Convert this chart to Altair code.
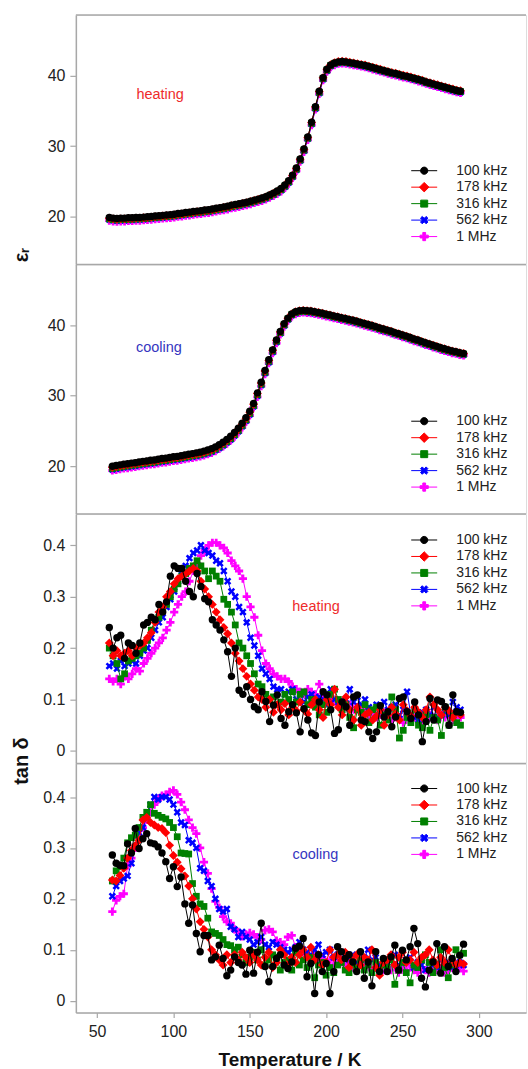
import altair as alt
import pandas as pd

FONT = "Liberation Sans"
GRAY = "#a8a8a8"

FREQS = ["100 kHz", "178 kHz", "316 kHz", "562 kHz", "1 MHz"]
COLORS = ["#000000", "#ff0000", "#008000", "#0000ff", "#ff00ff"]

# temperature grids (K)
T_HEAT = [58.0, 60.5, 63.0, 65.5, 68.0, 70.5, 73.0, 75.5, 78.0, 80.5,
          83.0, 85.5, 88.0, 90.5, 93.0, 95.5, 98.0, 100.5, 103.0, 105.5,
          108.0, 110.5, 113.0, 115.5, 118.0, 120.5, 123.0, 125.5, 128.0, 130.5,
          133.0, 135.5, 138.0, 140.5, 143.0, 145.5, 148.0, 150.5, 153.0, 155.5,
          158.0, 160.5, 163.0, 165.5, 168.0, 170.5, 173.0, 175.5, 178.0, 180.5,
          183.0, 185.5, 188.0, 190.5, 193.0, 195.5, 198.0, 200.5, 203.0, 205.5,
          208.0, 210.5, 213.0, 215.5, 218.0, 220.5, 223.0, 225.5, 228.0, 230.5,
          233.0, 235.5, 238.0, 240.5, 243.0, 245.5, 248.0, 250.5, 253.0, 255.5,
          258.0, 260.5, 263.0, 265.5, 268.0, 270.5, 273.0, 275.5, 278.0, 280.5,
          283.0, 285.5, 288.0]
T_COOL = [60.0, 62.5, 65.0, 67.5, 70.0, 72.5, 75.0, 77.5, 80.0, 82.5,
          85.0, 87.5, 90.0, 92.5, 95.0, 97.5, 100.0, 102.5, 105.0, 107.5,
          110.0, 112.5, 115.0, 117.5, 120.0, 122.5, 125.0, 127.5, 130.0, 132.5,
          135.0, 137.5, 140.0, 142.5, 145.0, 147.5, 150.0, 152.5, 155.0, 157.5,
          160.0, 162.5, 165.0, 167.5, 170.0, 172.5, 175.0, 177.5, 180.0, 182.5,
          185.0, 187.5, 190.0, 192.5, 195.0, 197.5, 200.0, 202.5, 205.0, 207.5,
          210.0, 212.5, 215.0, 217.5, 220.0, 222.5, 225.0, 227.5, 230.0, 232.5,
          235.0, 237.5, 240.0, 242.5, 245.0, 247.5, 250.0, 252.5, 255.0, 257.5,
          260.0, 262.5, 265.0, 267.5, 270.0, 272.5, 275.0, 277.5, 280.0, 282.5,
          285.0, 287.5, 290.0]

# ---- permittivity, heating ----
EPS_HEAT_100K = [19.9, 19.8, 19.75, 19.8, 19.8, 19.85, 19.85, 19.9, 19.9, 19.95,
                 20.0, 20.05, 20.1, 20.15, 20.2, 20.25, 20.3, 20.35, 20.45, 20.5,
                 20.6, 20.65, 20.75, 20.8, 20.85, 20.95, 21.0, 21.1, 21.2, 21.3,
                 21.4, 21.5, 21.65, 21.75, 21.85, 21.95, 22.05, 22.2, 22.35, 22.5,
                 22.65, 22.85, 23.1, 23.35, 23.65, 24.0, 24.5, 25.1, 25.9, 26.9,
                 28.2, 29.6, 31.3, 33.4, 35.6, 37.8, 39.7, 40.9, 41.5, 41.8,
                 41.95, 42.0, 41.95, 41.85, 41.75, 41.65, 41.55, 41.45, 41.3, 41.15,
                 41.0, 40.85, 40.7, 40.55, 40.4, 40.3, 40.15, 40.0, 39.9, 39.75,
                 39.6, 39.45, 39.3, 39.1, 38.95, 38.8, 38.65, 38.5, 38.35, 38.2,
                 38.05, 37.9, 37.8]
EPS_HEAT_178K = [19.8, 19.7, 19.65, 19.7, 19.7, 19.75, 19.75, 19.8, 19.8, 19.85,
                 19.9, 19.95, 20.0, 20.05, 20.1, 20.15, 20.2, 20.25, 20.35, 20.4,
                 20.5, 20.55, 20.65, 20.7, 20.75, 20.85, 20.9, 21.0, 21.1, 21.2,
                 21.3, 21.4, 21.55, 21.65, 21.75, 21.9, 22.0, 22.15, 22.3, 22.45,
                 22.6, 22.8, 23.05, 23.3, 23.6, 23.95, 24.45, 25.05, 25.85, 26.85,
                 28.15, 29.55, 31.25, 33.35, 35.55, 37.75, 39.7, 40.9, 41.55, 41.85,
                 42.0, 42.05, 42.0, 41.9, 41.8, 41.7, 41.6, 41.5, 41.35, 41.2,
                 41.05, 40.9, 40.75, 40.6, 40.45, 40.35, 40.2, 40.05, 39.95, 39.8,
                 39.65, 39.5, 39.35, 39.15, 39.0, 38.85, 38.7, 38.55, 38.4, 38.25,
                 38.1, 37.95, 37.85]
EPS_HEAT_316K = [19.7, 19.6, 19.55, 19.6, 19.6, 19.65, 19.65, 19.7, 19.7, 19.75,
                 19.8, 19.85, 19.9, 19.95, 20.0, 20.05, 20.1, 20.15, 20.25, 20.3,
                 20.4, 20.45, 20.55, 20.6, 20.65, 20.75, 20.8, 20.9, 21.0, 21.1,
                 21.2, 21.3, 21.45, 21.55, 21.65, 21.8, 21.9, 22.05, 22.2, 22.35,
                 22.5, 22.7, 22.95, 23.2, 23.5, 23.85, 24.35, 24.95, 25.75, 26.75,
                 28.05, 29.45, 31.15, 33.25, 35.45, 37.65, 39.6, 40.8, 41.45, 41.75,
                 41.9, 41.95, 41.9, 41.8, 41.7, 41.6, 41.5, 41.4, 41.25, 41.1,
                 40.95, 40.8, 40.65, 40.5, 40.35, 40.25, 40.1, 39.95, 39.85, 39.7,
                 39.55, 39.4, 39.25, 39.05, 38.9, 38.75, 38.6, 38.45, 38.3, 38.15,
                 38.0, 37.85, 37.75]
EPS_HEAT_562K = [19.6, 19.5, 19.45, 19.5, 19.5, 19.55, 19.55, 19.6, 19.6, 19.65,
                 19.7, 19.75, 19.8, 19.85, 19.9, 19.95, 20.0, 20.05, 20.15, 20.2,
                 20.3, 20.35, 20.45, 20.5, 20.55, 20.65, 20.7, 20.8, 20.9, 21.0,
                 21.1, 21.2, 21.35, 21.45, 21.55, 21.7, 21.8, 21.95, 22.1, 22.25,
                 22.4, 22.6, 22.85, 23.1, 23.4, 23.75, 24.25, 24.85, 25.65, 26.65,
                 27.95, 29.35, 31.05, 33.15, 35.35, 37.55, 39.5, 40.7, 41.35, 41.65,
                 41.8, 41.85, 41.8, 41.7, 41.6, 41.5, 41.4, 41.3, 41.15, 41.0,
                 40.85, 40.7, 40.55, 40.4, 40.25, 40.15, 40.0, 39.85, 39.75, 39.6,
                 39.45, 39.3, 39.15, 38.95, 38.8, 38.65, 38.5, 38.35, 38.2, 38.05,
                 37.9, 37.75, 37.65]
EPS_HEAT_1M = [19.45, 19.35, 19.3, 19.35, 19.35, 19.4, 19.4, 19.45, 19.45, 19.5,
               19.55, 19.6, 19.65, 19.7, 19.75, 19.8, 19.85, 19.9, 20.0, 20.05,
               20.15, 20.2, 20.3, 20.35, 20.4, 20.5, 20.55, 20.65, 20.75, 20.85,
               20.95, 21.05, 21.2, 21.3, 21.4, 21.55, 21.65, 21.8, 21.95, 22.1,
               22.25, 22.45, 22.7, 22.95, 23.25, 23.6, 24.1, 24.7, 25.5, 26.5,
               27.8, 29.2, 30.9, 33.0, 35.2, 37.4, 39.35, 40.55, 41.2, 41.5,
               41.7, 41.75, 41.7, 41.6, 41.5, 41.4, 41.3, 41.2, 41.05, 40.9,
               40.75, 40.6, 40.45, 40.3, 40.15, 40.05, 39.9, 39.75, 39.65, 39.5,
               39.35, 39.2, 39.05, 38.85, 38.7, 38.55, 38.4, 38.25, 38.1, 37.95,
               37.8, 37.65, 37.55]

# ---- permittivity, cooling ----
EPS_COOL_100K = [20.0, 20.1, 20.2, 20.3, 20.35, 20.45, 20.5, 20.6, 20.7, 20.75,
                 20.85, 20.9, 21.0, 21.1, 21.15, 21.25, 21.35, 21.4, 21.5, 21.6,
                 21.7, 21.8, 21.9, 22.0, 22.15, 22.3, 22.5, 22.75, 23.05, 23.4,
                 23.8, 24.25, 24.8, 25.4, 26.1, 26.9, 27.8, 28.9, 30.4, 31.9,
                 33.6, 35.1, 36.5, 37.9, 39.1, 40.2, 41.0, 41.6, 41.9, 42.05,
                 42.1, 42.05, 42.0, 41.9, 41.8, 41.7, 41.55, 41.45, 41.3, 41.2,
                 41.05, 40.95, 40.8, 40.7, 40.55, 40.4, 40.25, 40.1, 39.95, 39.8,
                 39.6, 39.45, 39.3, 39.15, 38.95, 38.8, 38.6, 38.45, 38.25, 38.05,
                 37.9, 37.7, 37.5, 37.35, 37.15, 37.0, 36.8, 36.65, 36.5, 36.35,
                 36.25, 36.1, 36.0]
EPS_COOL_178K = [19.85, 19.95, 20.05, 20.15, 20.2, 20.3, 20.35, 20.45, 20.55, 20.6,
                 20.7, 20.75, 20.85, 20.95, 21.0, 21.1, 21.2, 21.25, 21.35, 21.45,
                 21.55, 21.65, 21.75, 21.85, 22.0, 22.15, 22.35, 22.6, 22.9, 23.25,
                 23.65, 24.1, 24.65, 25.25, 25.95, 26.75, 27.65, 28.8, 30.3, 31.8,
                 33.5, 35.0, 36.45, 37.85, 39.05, 40.15, 41.0, 41.6, 41.9, 42.05,
                 42.1, 42.05, 42.0, 41.9, 41.8, 41.7, 41.55, 41.45, 41.3, 41.2,
                 41.05, 40.95, 40.8, 40.7, 40.55, 40.4, 40.25, 40.1, 39.95, 39.8,
                 39.6, 39.45, 39.3, 39.15, 38.95, 38.8, 38.6, 38.45, 38.25, 38.05,
                 37.9, 37.7, 37.5, 37.35, 37.15, 37.0, 36.8, 36.65, 36.5, 36.35,
                 36.25, 36.1, 36.0]
EPS_COOL_316K = [19.7, 19.8, 19.9, 20.0, 20.05, 20.15, 20.2, 20.3, 20.4, 20.45,
                 20.55, 20.6, 20.7, 20.8, 20.85, 20.95, 21.05, 21.1, 21.2, 21.3,
                 21.4, 21.5, 21.6, 21.7, 21.85, 22.0, 22.2, 22.45, 22.75, 23.1,
                 23.5, 23.95, 24.5, 25.1, 25.8, 26.6, 27.5, 28.65, 30.15, 31.65,
                 33.35, 34.9, 36.35, 37.75, 38.95, 40.05, 40.9, 41.5, 41.8, 41.95,
                 42.0, 41.95, 41.9, 41.8, 41.7, 41.6, 41.45, 41.35, 41.2, 41.1,
                 40.95, 40.85, 40.7, 40.6, 40.45, 40.3, 40.15, 40.0, 39.85, 39.7,
                 39.5, 39.35, 39.2, 39.05, 38.85, 38.7, 38.5, 38.35, 38.15, 37.95,
                 37.8, 37.6, 37.4, 37.25, 37.05, 36.9, 36.7, 36.55, 36.4, 36.25,
                 36.15, 36.0, 35.9]
EPS_COOL_562K = [19.55, 19.65, 19.75, 19.85, 19.9, 20.0, 20.05, 20.15, 20.25, 20.3,
                 20.4, 20.45, 20.55, 20.65, 20.7, 20.8, 20.9, 20.95, 21.05, 21.15,
                 21.25, 21.35, 21.45, 21.55, 21.7, 21.85, 22.05, 22.3, 22.6, 22.95,
                 23.35, 23.8, 24.35, 24.95, 25.65, 26.45, 27.35, 28.5, 30.0, 31.5,
                 33.2, 34.75, 36.2, 37.6, 38.85, 39.95, 40.8, 41.4, 41.7, 41.85,
                 41.9, 41.85, 41.8, 41.7, 41.6, 41.5, 41.35, 41.25, 41.1, 41.0,
                 40.85, 40.75, 40.6, 40.5, 40.35, 40.2, 40.05, 39.9, 39.75, 39.6,
                 39.4, 39.25, 39.1, 38.95, 38.75, 38.6, 38.4, 38.25, 38.05, 37.85,
                 37.7, 37.5, 37.3, 37.15, 36.95, 36.8, 36.6, 36.45, 36.3, 36.15,
                 36.05, 35.9, 35.8]
EPS_COOL_1M = [19.4, 19.5, 19.6, 19.7, 19.75, 19.85, 19.9, 20.0, 20.1, 20.15,
               20.25, 20.3, 20.4, 20.5, 20.55, 20.65, 20.75, 20.8, 20.9, 21.0,
               21.1, 21.2, 21.3, 21.4, 21.55, 21.7, 21.9, 22.15, 22.45, 22.8,
               23.2, 23.65, 24.2, 24.8, 25.5, 26.3, 27.2, 28.35, 29.85, 31.35,
               33.05, 34.6, 36.05, 37.45, 38.7, 39.8, 40.65, 41.25, 41.55, 41.75,
               41.8, 41.75, 41.7, 41.6, 41.5, 41.4, 41.25, 41.15, 41.0, 40.9,
               40.75, 40.65, 40.5, 40.4, 40.25, 40.1, 39.95, 39.8, 39.65, 39.5,
               39.3, 39.15, 39.0, 38.85, 38.65, 38.5, 38.3, 38.15, 37.95, 37.75,
               37.6, 37.4, 37.2, 37.05, 36.85, 36.7, 36.5, 36.35, 36.2, 36.05,
               35.95, 35.8, 35.7]

# ---- tan delta, heating ----
TAN_HEAT_100K = [0.24, 0.20, 0.22, 0.225, 0.18, 0.21, 0.205, 0.19, 0.21, 0.245,
                 0.25, 0.26, 0.255, 0.285, 0.27, 0.29, 0.34, 0.36, 0.355, 0.355,
                 0.33, 0.31, 0.30, 0.345, 0.32, 0.296, 0.29, 0.255, 0.245, 0.235,
                 0.216, 0.193, 0.145, 0.2, 0.118, 0.11, 0.125, 0.1, 0.086, 0.08,
                 0.115, 0.096, 0.057, 0.089, 0.109, 0.063, 0.05, 0.076, 0.09, 0.074,
                 0.037, 0.082, 0.06, 0.035, 0.03, 0.095, 0.115, 0.109, 0.08, 0.034,
                 0.041, 0.095, 0.086, 0.05, 0.105, 0.109, 0.06, 0.057, 0.037, 0.024,
                 0.037, 0.088, 0.066, 0.076, 0.047, 0.066, 0.102, 0.105, 0.076, 0.063,
                 0.095, 0.07, 0.018, 0.057, 0.102, 0.06, 0.099, 0.096, 0.086, 0.05,
                 0.109, 0.076, 0.075]
TAN_HEAT_178K = [0.21, 0.185, 0.195, 0.185, 0.19, 0.195, 0.185, 0.2, 0.205, 0.21,
                 0.22, 0.23, 0.25, 0.27, 0.28, 0.3, 0.31, 0.325, 0.335, 0.34,
                 0.345, 0.35, 0.355, 0.35, 0.33, 0.315, 0.3, 0.285, 0.27, 0.255,
                 0.24, 0.228, 0.21, 0.19, 0.175, 0.16, 0.145, 0.13, 0.118, 0.105,
                 0.1, 0.085, 0.1, 0.075, 0.09, 0.08, 0.092, 0.07, 0.085, 0.078,
                 0.095, 0.08, 0.072, 0.09, 0.1, 0.08, 0.065, 0.1, 0.09, 0.12,
                 0.085, 0.07, 0.105, 0.08, 0.06, 0.085, 0.05, 0.07, 0.075, 0.06,
                 0.068, 0.08, 0.05, 0.07, 0.085, 0.072, 0.06, 0.09, 0.078, 0.068,
                 0.085, 0.075, 0.065, 0.08, 0.105, 0.09, 0.08, 0.07, 0.085, 0.078,
                 0.065, 0.075, 0.07]
TAN_HEAT_316K = [0.2, 0.185, 0.17, 0.14, 0.15, 0.175, 0.18, 0.185, 0.19, 0.2,
                 0.215, 0.235, 0.255, 0.26, 0.28, 0.285, 0.3, 0.315, 0.325, 0.34,
                 0.345, 0.355, 0.36, 0.37, 0.36, 0.35, 0.335, 0.35, 0.34, 0.33,
                 0.295, 0.285, 0.27, 0.245, 0.21, 0.2, 0.185, 0.17, 0.15, 0.13,
                 0.125, 0.11, 0.1, 0.105, 0.09, 0.095, 0.11, 0.1, 0.115, 0.095,
                 0.11, 0.115, 0.09, 0.1, 0.085, 0.07, 0.09, 0.075, 0.11, 0.12,
                 0.1, 0.08, 0.09, 0.065, 0.045, 0.08, 0.075, 0.09, 0.055, 0.08,
                 0.085, 0.05, 0.07, 0.06, 0.105, 0.08, 0.025, 0.04, 0.065, 0.055,
                 0.08, 0.05, 0.045, 0.07, 0.04, 0.065, 0.06, 0.03, 0.085, 0.05,
                 0.07, 0.055, 0.05]
TAN_HEAT_562K = [0.165, 0.17, 0.16, 0.175, 0.165, 0.17, 0.175, 0.17, 0.185, 0.195,
                 0.2, 0.22, 0.235, 0.25, 0.26, 0.28, 0.295, 0.31, 0.33, 0.35,
                 0.36, 0.375, 0.385, 0.39, 0.4, 0.39, 0.385, 0.38, 0.37, 0.365,
                 0.35, 0.33, 0.31, 0.3, 0.28, 0.27, 0.25, 0.22, 0.205, 0.185,
                 0.16, 0.15, 0.14, 0.125, 0.12, 0.12, 0.11, 0.115, 0.12, 0.1,
                 0.11, 0.095, 0.105, 0.11, 0.095, 0.105, 0.1, 0.09, 0.12, 0.1,
                 0.095, 0.085, 0.1, 0.12, 0.095, 0.105, 0.09, 0.1, 0.085, 0.08,
                 0.09, 0.075, 0.095, 0.08, 0.085, 0.09, 0.07, 0.08, 0.115, 0.07,
                 0.065, 0.06, 0.075, 0.08, 0.07, 0.085, 0.065, 0.07, 0.075, 0.07,
                 0.095, 0.085, 0.08]
TAN_HEAT_1M = [0.14, 0.135, 0.14, 0.13, 0.145, 0.14, 0.15, 0.16, 0.155, 0.17,
               0.18, 0.19, 0.2, 0.21, 0.22, 0.235, 0.25, 0.27, 0.285, 0.3,
               0.31, 0.33, 0.35, 0.365, 0.38, 0.39, 0.4, 0.405, 0.405, 0.4,
               0.395, 0.385, 0.37, 0.36, 0.35, 0.335, 0.3, 0.28, 0.26, 0.225,
               0.195, 0.17, 0.16, 0.15, 0.145, 0.14, 0.14, 0.135, 0.125, 0.12,
               0.115, 0.11, 0.12, 0.115, 0.11, 0.13, 0.105, 0.1, 0.095, 0.1,
               0.09, 0.095, 0.085, 0.09, 0.08, 0.085, 0.075, 0.08, 0.07, 0.075,
               0.065, 0.07, 0.075, 0.065, 0.06, 0.07, 0.065, 0.055, 0.07, 0.06,
               0.065, 0.07, 0.055, 0.06, 0.07, 0.065, 0.06, 0.07, 0.065, 0.075,
               0.06, 0.07, 0.065]

# ---- tan delta, cooling ----
TAN_COOL_100K = [0.286, 0.27, 0.266, 0.265, 0.308, 0.29, 0.338, 0.299, 0.318, 0.328,
                 0.31, 0.308, 0.302, 0.29, 0.273, 0.24, 0.263, 0.224, 0.243, 0.19,
                 0.152, 0.188, 0.132, 0.096, 0.128, 0.128, 0.08, 0.086, 0.109, 0.083,
                 0.049, 0.06, 0.086, 0.075, 0.07, 0.052, 0.099, 0.054, 0.095, 0.152,
                 0.067, 0.037, 0.067, 0.083, 0.09, 0.07, 0.063, 0.076, 0.103, 0.107,
                 0.122, 0.047, 0.073, 0.014, 0.09, 0.057, 0.073, 0.014, 0.057, 0.106,
                 0.096, 0.083, 0.09, 0.076, 0.057, 0.096, 0.044, 0.076, 0.029, 0.096,
                 0.057, 0.083, 0.057, 0.086, 0.109, 0.06, 0.099, 0.08, 0.106, 0.142,
                 0.112, 0.044, 0.027, 0.06, 0.076, 0.112, 0.054, 0.106, 0.067, 0.083,
                 0.057, 0.089, 0.111]
TAN_COOL_178K = [0.237, 0.235, 0.246, 0.26, 0.28, 0.295, 0.305, 0.315, 0.355, 0.36,
                 0.35, 0.345, 0.34, 0.338, 0.33, 0.305, 0.285, 0.272, 0.259, 0.245,
                 0.225, 0.2, 0.18, 0.155, 0.14, 0.125, 0.1, 0.09, 0.08, 0.07,
                 0.09, 0.075, 0.09, 0.08, 0.095, 0.085, 0.075, 0.09, 0.08, 0.07,
                 0.085, 0.095, 0.065, 0.075, 0.1, 0.09, 0.07, 0.085, 0.075, 0.09,
                 0.1, 0.085, 0.105, 0.08, 0.09, 0.07, 0.075, 0.1, 0.085, 0.09,
                 0.08, 0.095, 0.065, 0.08, 0.09, 0.07, 0.085, 0.08, 0.1, 0.065,
                 0.05, 0.075, 0.08, 0.09, 0.07, 0.085, 0.095, 0.075, 0.08, 0.095,
                 0.075, 0.085, 0.09, 0.1, 0.08, 0.07, 0.085, 0.075, 0.1, 0.08,
                 0.07, 0.075, 0.072]
TAN_COOL_316K = [0.235, 0.255, 0.263, 0.28, 0.31, 0.32, 0.325, 0.34, 0.36, 0.37,
                 0.385, 0.368, 0.364, 0.36, 0.357, 0.35, 0.34, 0.322, 0.29, 0.289,
                 0.288, 0.23, 0.205, 0.19, 0.185, 0.162, 0.135, 0.132, 0.128, 0.12,
                 0.11, 0.108, 0.1, 0.105, 0.09, 0.075, 0.085, 0.095, 0.08, 0.1,
                 0.07, 0.08, 0.09, 0.085, 0.06, 0.075, 0.08, 0.06, 0.095, 0.07,
                 0.08, 0.065, 0.085, 0.045, 0.07, 0.075, 0.05, 0.065, 0.055, 0.07,
                 0.075, 0.06, 0.055, 0.07, 0.065, 0.08, 0.06, 0.07, 0.055, 0.075,
                 0.06, 0.07, 0.065, 0.08, 0.032, 0.06, 0.075, 0.055, 0.035, 0.07,
                 0.065, 0.08, 0.09, 0.075, 0.055, 0.07, 0.1, 0.065, 0.045, 0.07,
                 0.1, 0.09, 0.093]
TAN_COOL_562K = [0.205, 0.225, 0.235, 0.24, 0.245, 0.27, 0.3, 0.33, 0.34, 0.36,
                 0.385, 0.4, 0.395, 0.4, 0.4, 0.395, 0.385, 0.37, 0.35, 0.345,
                 0.315, 0.31, 0.3, 0.26, 0.255, 0.235, 0.225, 0.2, 0.18, 0.175,
                 0.18, 0.145, 0.14, 0.125, 0.135, 0.125, 0.12, 0.11, 0.115, 0.125,
                 0.11, 0.105, 0.115, 0.11, 0.105, 0.1, 0.095, 0.1, 0.105, 0.115,
                 0.1, 0.095, 0.09, 0.1, 0.11, 0.09, 0.095, 0.1, 0.085, 0.09,
                 0.095, 0.08, 0.085, 0.09, 0.075, 0.08, 0.085, 0.1, 0.08, 0.085,
                 0.07, 0.08, 0.075, 0.08, 0.09, 0.07, 0.075, 0.08, 0.085, 0.065,
                 0.075, 0.07, 0.06, 0.075, 0.07, 0.065, 0.08, 0.07, 0.075, 0.065,
                 0.07, 0.075, 0.07]
TAN_COOL_1M = [0.175, 0.197, 0.205, 0.21, 0.265, 0.28, 0.3, 0.32, 0.34, 0.355,
               0.37, 0.385, 0.395, 0.403, 0.405, 0.41, 0.413, 0.405, 0.39, 0.375,
               0.355, 0.34, 0.328, 0.3, 0.272, 0.25, 0.22, 0.195, 0.183, 0.165,
               0.155, 0.152, 0.14, 0.135, 0.126, 0.13, 0.133, 0.13, 0.125, 0.12,
               0.138, 0.14, 0.135, 0.118, 0.115, 0.11, 0.125, 0.128, 0.105, 0.1,
               0.095, 0.09, 0.085, 0.09, 0.08, 0.085, 0.075, 0.08, 0.07, 0.075,
               0.08, 0.07, 0.075, 0.065, 0.07, 0.075, 0.065, 0.07, 0.06, 0.065,
               0.07, 0.06, 0.065, 0.06, 0.07, 0.055, 0.065, 0.06, 0.07, 0.06,
               0.055, 0.065, 0.06, 0.055, 0.065, 0.06, 0.065, 0.055, 0.06, 0.065,
               0.06, 0.065, 0.058]

# annotation texts
NOTE_LABELS = ["heating", "cooling", "heating", "cooling"]
NOTE_T = [91.3, 90.5, 193.4, 193.0]
NOTE_V = [37.2, 36.7, 0.279, 0.286]
NOTE_COLORS = ["#ee2b2b", "#3535c0", "#ee2b2b", "#3535c0"]

X_TICKS = [50, 100, 150, 200, 250, 300]
EPS_TICKS = [20, 30, 40]
TAN_TICKS = [0, 0.1, 0.2, 0.3, 0.4]

# ---------------- styling ----------------
W = 451
H = 249.5
XDOM = [36.1, 330.9]

LINE = "M-2.6,0L2.6,0"
CIRCLE_P = "M-0.72,0A0.72,0.72,0,1,1,0.72,0A0.72,0.72,0,1,1,-0.72,0Z"
DIAMOND_P = "M0,-0.95L0.95,0L0,0.95L-0.95,0Z"
SQUARE_P = "M-0.7,-0.7L0.7,-0.7L0.7,0.7L-0.7,0.7Z"
XMARK_P = ("M-0.389,0.742L0,0.354L0.389,0.742L0.742,0.389L0.354,0L0.742,-0.389"
           "L0.389,-0.742L0,-0.354L-0.389,-0.742L-0.742,-0.389L-0.354,0L-0.742,0.389Z")
PLUS_P = ("M0.28,0.82L0.28,0.28L0.82,0.28L0.82,-0.28L0.28,-0.28L0.28,-0.82"
          "L-0.28,-0.82L-0.28,-0.28L-0.82,-0.28L-0.82,0.28L-0.28,0.28L-0.28,0.82Z")
LEG_SHAPES = [LINE + CIRCLE_P, LINE + DIAMOND_P, LINE + SQUARE_P, LINE + XMARK_P, LINE + PLUS_P]
MARKERS = [("circle", 55), ("diamond", 80), ("square", 46), (XMARK_P, 100), (PLUS_P, 100)]


def long_frame(T, lists):
    rows = []
    for f, vals in zip(FREQS, lists):
        if len(vals) != len(T):
            raise ValueError(f"length mismatch {f}: {len(vals)} vs {len(T)}")
        for t, v in zip(T, vals):
            rows.append({"T": t, "v": v, "freq": f})
    return pd.DataFrame(rows)


def panel(df, ydom, yticks, yfmt, note_idx, leg_x, leg_y, ytitle=None, ytitle_y=0.0, bottom=False):
    if bottom:
        xaxis = alt.Axis(values=X_TICKS, format="d", tickSize=5, labelPadding=6,
                         labelFontSize=16, labelFont=FONT, labelColor="#222222",
                         domainColor=GRAY, tickColor=GRAY, domainWidth=1.5, tickWidth=1.2,
                         grid=False, labelFlush=False,
                         title="Temperature / K", titleFontSize=19, titleFontWeight="bold",
                         titleFont=FONT, titleColor="#111111", titleX=214, titleY=53,
                         titleBaseline="alphabetic", titleAlign="center")
        xenc = alt.X("T:Q", scale=alt.Scale(domain=XDOM, nice=False, zero=False), axis=xaxis)
    else:
        xenc = alt.X("T:Q", scale=alt.Scale(domain=XDOM, nice=False, zero=False), axis=None)

    yargs = dict(values=yticks, format=yfmt, tickSize=6, labelPadding=5, labelFontSize=16,
                 labelFont=FONT, labelColor="#222222", domainColor=GRAY, tickColor=GRAY,
                 domainWidth=1.5, tickWidth=1.2, grid=False)
    if ytitle:
        yargs.update(title=ytitle, titleX=-48, titleY=ytitle_y, titleAngle=270,
                     titleBaseline="alphabetic", titleAlign="center", titleFontSize=20,
                     titleFontWeight="bold", titleFont=FONT, titleColor="#111111")
        yenc = alt.Y("v:Q", scale=alt.Scale(domain=ydom, nice=False, zero=False), axis=alt.Axis(**yargs))
    else:
        yenc = alt.Y("v:Q", scale=alt.Scale(domain=ydom, nice=False, zero=False), axis=alt.Axis(**yargs),
                     title=None)

    base = alt.Chart(df).encode(x=xenc, y=yenc)
    layers = []
    # frame line on top of the panel
    layers.append(alt.Chart(pd.DataFrame({"k": [0]})).mark_rule(color=GRAY, strokeWidth=1.5)
                  .encode(x=alt.value(0), x2=alt.value(W), y=alt.value(0)))
    for i in reversed(range(len(FREQS))):
        f, c = FREQS[i], COLORS[i]
        shp, sz = MARKERS[i]
        sub = base.transform_filter(alt.datum.freq == f)
        layers.append(sub.mark_line(color=c, strokeWidth=1))
        layers.append(sub.mark_point(shape=shp, size=sz, filled=True, color=c, opacity=1))

    leg = alt.Legend(title=None, orient="none", legendX=leg_x, legendY=leg_y, padding=0,
                     symbolSize=100, symbolStrokeWidth=1, symbolOpacity=1, labelFontSize=14,
                     labelFont=FONT, labelColor="#222222", labelOffset=25, rowPadding=2.5,
                     labelLimit=200)
    layers.append(base.mark_point(filled=True, opacity=1).encode(
        fill=alt.Fill("freq:N", scale=alt.Scale(domain=FREQS, range=COLORS), legend=leg),
        stroke=alt.Stroke("freq:N", scale=alt.Scale(domain=FREQS, range=COLORS), legend=leg),
        shape=alt.Shape("freq:N", scale=alt.Scale(domain=FREQS, range=LEG_SHAPES), legend=leg),
    ).transform_filter(alt.datum.T < 0))

    note_df = pd.DataFrame({"T": [NOTE_T[note_idx]], "v": [NOTE_V[note_idx]],
                            "label": [NOTE_LABELS[note_idx]]})
    layers.append(alt.Chart(note_df).mark_text(fontSize=14.5, font=FONT, color=NOTE_COLORS[note_idx],
                                               baseline="middle", align="center")
                  .encode(x=xenc, y=yenc, text="label:N"))
    return alt.layer(*layers).properties(width=W, height=H)


p1 = panel(long_frame(T_HEAT, [EPS_HEAT_100K, EPS_HEAT_178K, EPS_HEAT_316K, EPS_HEAT_562K, EPS_HEAT_1M]),
           [13.3, 48.6], EPS_TICKS, "d", 0, 342, 149, ytitle="εᵣ", ytitle_y=240)
p2 = panel(long_frame(T_COOL, [EPS_COOL_100K, EPS_COOL_178K, EPS_COOL_316K, EPS_COOL_562K, EPS_COOL_1M]),
           [13.3, 48.6], EPS_TICKS, "d", 1, 342, 150)
p3 = panel(long_frame(T_HEAT, [TAN_HEAT_100K, TAN_HEAT_178K, TAN_HEAT_316K, TAN_HEAT_562K, TAN_HEAT_1M]),
           [-0.0237, 0.4608], TAN_TICKS, ".1~f", 2, 342, 19, ytitle="tan δ", ytitle_y=247)
p4 = panel(long_frame(T_COOL, [TAN_COOL_100K, TAN_COOL_178K, TAN_COOL_316K, TAN_COOL_562K, TAN_COOL_1M]),
           [-0.0235, 0.4657], TAN_TICKS, ".1~f", 3, 342, 18, bottom=True)

chart = (
    alt.vconcat(p1, p2, p3, p4, spacing=0, bounds="flush")
    .resolve_scale(y="independent", fill="independent", stroke="independent", shape="independent")
    .resolve_legend(fill="independent", stroke="independent", shape="independent")
    .properties(padding={"left": 11, "top": 12, "right": 0, "bottom": 0})
    .configure_view(stroke=None)
    .configure(font=FONT)
)

chart.save("out.html", embed_options={"renderer": "svg", "actions": False})
